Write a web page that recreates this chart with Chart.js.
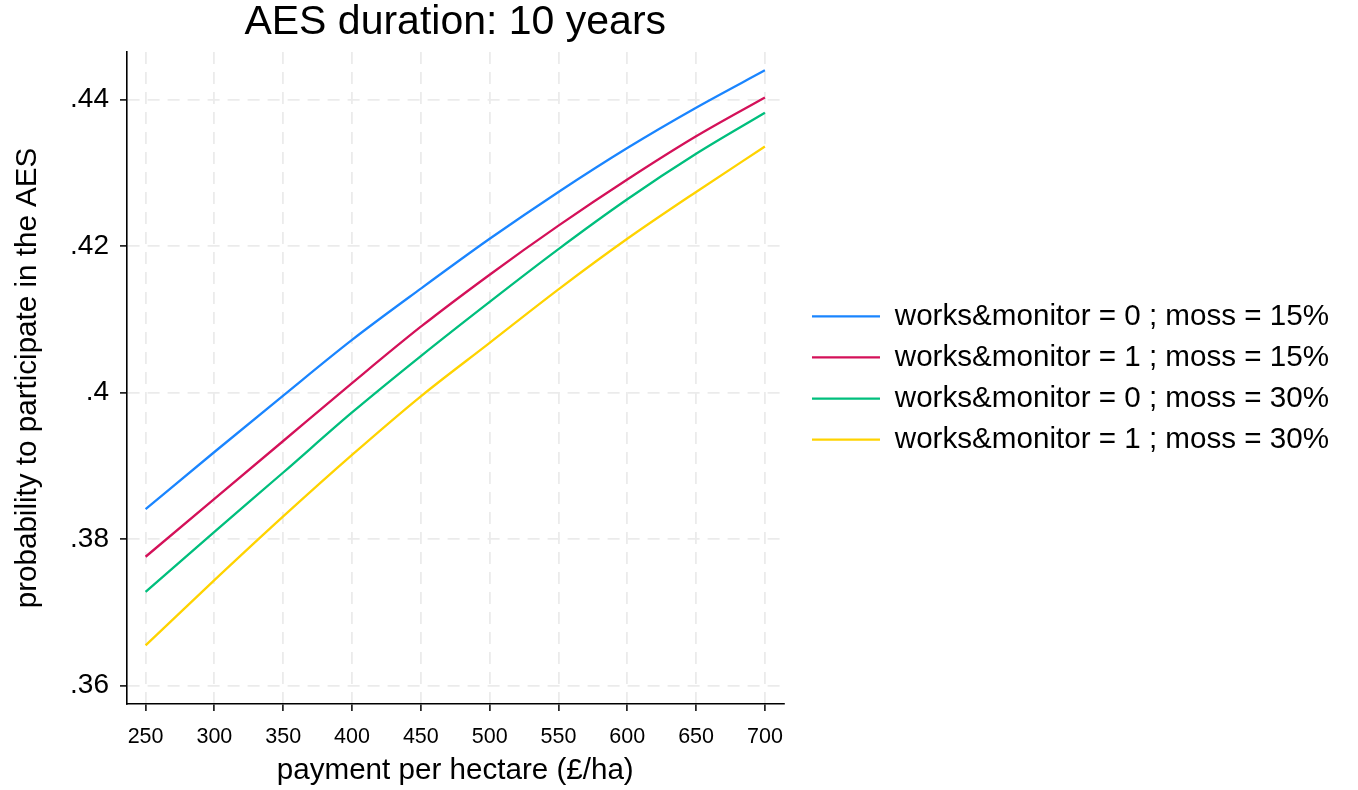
<!DOCTYPE html>
<html>
<head>
<meta charset="utf-8">
<title>AES duration: 10 years</title>
<script src="https://cdn.jsdelivr.net/npm/chart.js@4/dist/chart.umd.min.js"></script>
<style>
  html, body { margin: 0; padding: 0; background: #fff; }
  #box { width: 1358px; height: 790px; }
</style>
</head>
<body>
<div id="box"><canvas id="grafico"></canvas></div>
<script>
// payment per hectare (£/ha)
const pagamento = [250, 300, 350, 400, 450, 500, 550, 600, 650, 700];

// predicted probability of taking part in the AES, one list per scenario
const wm0Moss15 = [.3841, .3919, .3996, .4072, .4142, .4210, .4274, .4334, .4389, .4440];
const wm1Moss15 = [.3776, .3855, .3934, .4013, .4090, .4161, .4228, .4291, .4350, .4403];
const wm0Moss30 = [.3728, .3810, .3891, .3973, .4050, .4124, .4196, .4264, .4326, .4382];
const wm1Moss30 = [.3655, .3744, .3831, .3915, .3995, .4068, .4141, .4210, .4274, .4336];

const nomesSeries = [
    'works&monitor = 0 ; moss = 15%',
    'works&monitor = 1 ; moss = 15%',
    'works&monitor = 0 ; moss = 30%',
    'works&monitor = 1 ; moss = 30%'
];
const cores = ['#1a85ff', '#d41159', '#00bf7d', '#ffd300'];

const ticksX = [250, 300, 350, 400, 450, 500, 550, 600, 650, 700];
const ticksY = [.36, .38, .40, .42, .44];
const rotulosY = ['.36', '.38', '.4', '.42', '.44'];

const FONTE = '"Liberation Sans", Arial, Helvetica, sans-serif';
const GRADE = '#ebebeb';

function serie(valores, i) {
    return {
        label: nomesSeries[i],
        data: pagamento.map((p, k) => ({ x: p, y: valores[k] })),
        borderColor: cores[i],
        backgroundColor: cores[i],
        borderWidth: 2.3,
        pointRadius: 0,
        cubicInterpolationMode: 'monotone',
        fill: false
    };
}

new Chart(document.getElementById('grafico'), {
    type: 'line',
    data: { datasets: [wm0Moss15, wm1Moss15, wm0Moss30, wm1Moss30].map(serie) },
    options: {
        responsive: true,
        maintainAspectRatio: false,
        animation: false,
        layout: { padding: { left: 0, right: 19, top: 0, bottom: 0 } },
        scales: {
            x: {
                type: 'linear',
                min: 236.5,
                max: 713.5,
                afterBuildTicks: s => { s.ticks = ticksX.map(v => ({ value: v })); },
                afterFit: s => { s.height = 86; },
                ticks: { font: { family: FONTE, size: 21.5 }, color: '#000', padding: 13, maxRotation: 0 },
                grid: { color: GRADE, lineWidth: 1.8, tickLength: 7, tickColor: '#000', tickWidth: 1.5 },
                border: { display: true, color: '#000', width: 1.6, dash: [12, 8] },
                title: {
                    display: true,
                    text: 'payment per hectare (£/ha)',
                    font: { family: FONTE, size: 29.6 },
                    color: '#000',
                    padding: { top: 0, bottom: 1 }
                }
            },
            y: {
                type: 'linear',
                min: .3575,
                max: .4465,
                afterBuildTicks: s => { s.ticks = ticksY.map(v => ({ value: v })); },
                afterFit: s => { s.width = 127; },
                ticks: {
                    font: { family: FONTE, size: 28 },
                    color: '#000',
                    padding: 11,
                    callback: (v, i) => rotulosY[i]
                },
                grid: { color: GRADE, lineWidth: 1.8, tickLength: 7, tickColor: '#000', tickWidth: 1.5 },
                border: { display: true, color: '#000', width: 1.6, dash: [12, 8] },
                title: {
                    display: true,
                    text: 'probability to participate in the AES',
                    font: { family: FONTE, size: 29.6 },
                    color: '#000',
                    padding: { top: 10, bottom: 0 }
                }
            },
            // empty strip between the plot and the legend
            folga: {
                type: 'linear',
                position: 'right',
                display: true,
                afterFit: s => { s.width = 17; },
                ticks: { display: false },
                grid: { display: false },
                border: { display: false }
            }
        },
        plugins: {
            title: {
                display: true,
                text: 'AES duration: 10 years',
                fullSize: false,
                font: { family: FONTE, size: 41, weight: 'normal', lineHeight: 1 },
                color: '#000',
                padding: { top: 2, bottom: 9 }
            },
            legend: {
                position: 'right',
                fullSize: false,
                maxWidth: 700,
                labels: {
                    font: { family: FONTE, size: 29.6 },
                    color: '#000',
                    usePointStyle: true,
                    pointStyle: 'line',
                    pointStyleWidth: 68,
                    padding: 11.5
                }
            },
            tooltip: { enabled: false }
        }
    }
});
</script>
</body>
</html>
